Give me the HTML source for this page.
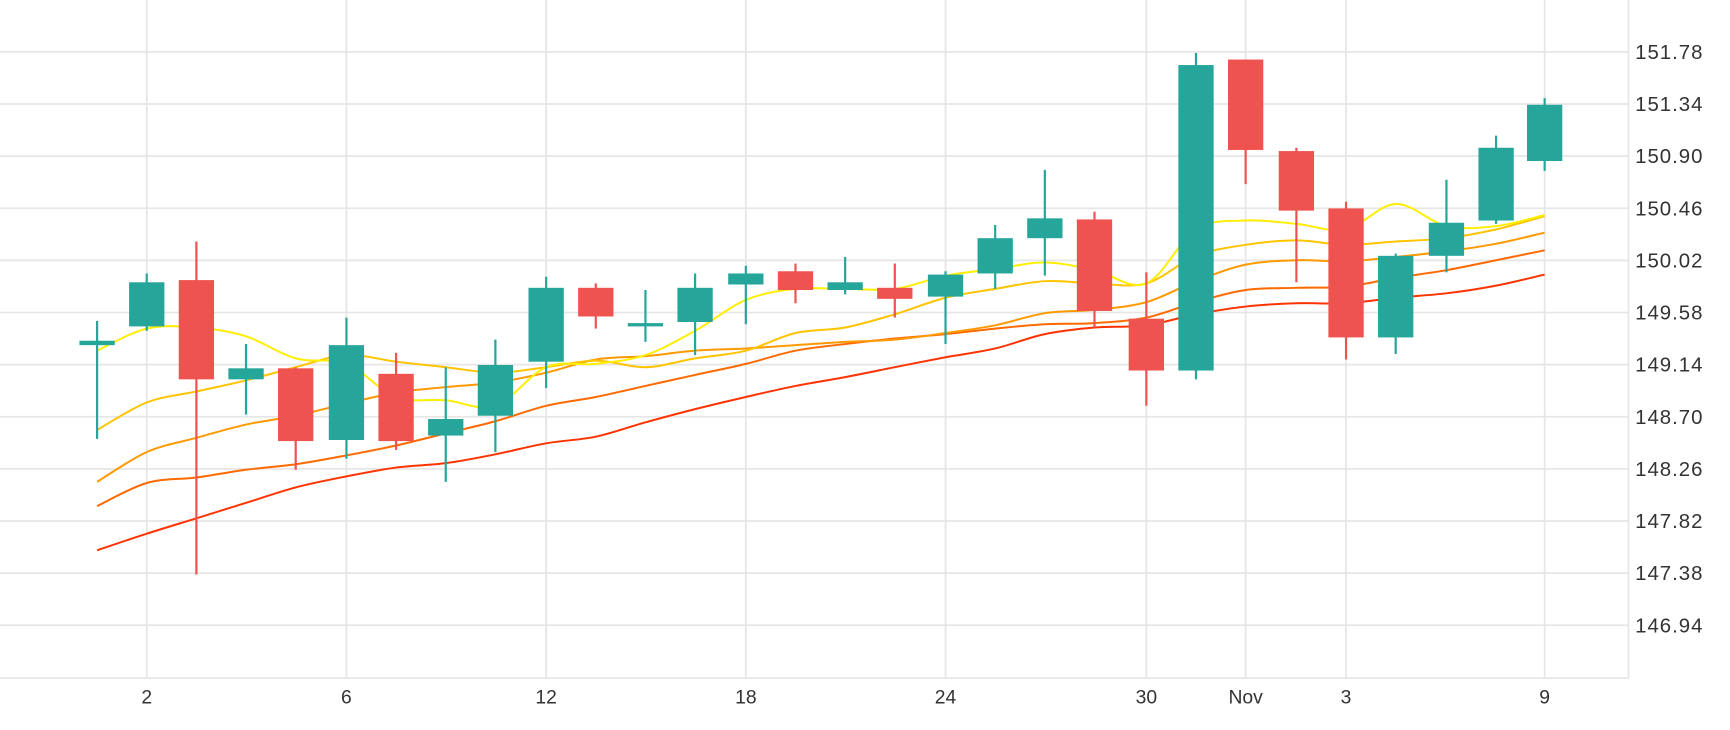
<!DOCTYPE html>
<html><head><meta charset="utf-8"><style>
html,body{margin:0;padding:0;background:#fff;width:1730px;height:730px;overflow:hidden}
svg{display:block}
text{font-family:"Liberation Sans","DejaVu Sans",sans-serif;fill:#333}
</style></head><body>
<svg id="c" width="1730" height="730" viewBox="0 0 1568 662" preserveAspectRatio="none" xmlns="http://www.w3.org/2000/svg"></svg>
<script>
var s='';
var X=[88,133,178,223,268,314,359,404,449,495,540,585,630,676,721,766,811,857,902,947,992,1039,1084,1129,1175,1220,1265,1311,1356,1400];
var labs=['151.78','151.34','150.90','150.46','150.02','149.58','149.14','148.70','148.26','147.82','147.38','146.94'];
for(var k=0;k<12;k++){var y=47+k*47.27;s+='<line x1="0" x2="1476" y1="'+y+'" y2="'+y+'" stroke="#e6e6e6" stroke-width="1.6"/>';
s+='<text x="1482" y="'+(y+6.5)+'" font-size="18.5" letter-spacing="0.9">'+labs[k]+'</text>';}
var vg=[[1,'2'],[5,'6'],[9,'12'],[13,'18'],[17,'24'],[21,'30'],[23,'Nov'],[25,'3'],[29,'9']];
vg.forEach(function(v){var x=X[v[0]];s+='<line x1="'+x+'" x2="'+x+'" y1="0" y2="615" stroke="#e6e6e6" stroke-width="1.6"/>';
s+='<text x="'+x+'" y="638" font-size="17.5" text-anchor="middle">'+v[1]+'</text>';});
s+='<line x1="0" x2="1476" y1="615" y2="615" stroke="#e6e6e6" stroke-width="1.6"/><line x1="1476" x2="1476" y1="0" y2="615" stroke="#e6e6e6" stroke-width="1.6"/>';
var C=[[291,309,313,398,1],[248,256,296,300,1],[219,254,344,521,0],[312,334,344,376,1],[333,334,400,426,0],[288,313,399,416,1],[320,339,400,408,0],[333,380,395,437,1],[308,331,377,410,1],[251,261,328,352,1],[257,261,287,298,0],[263,293,295,310,1],[248,261,292,322,1],[241,248,258,294,1],[239,246,263,275,0],[233,256,263,267,1],[239,261,271,288,0],[246,249,269,312,1],[204,216,248,262,1],[154,198,216,250,1],[192,199,282,297,0],[247,289,336,368,0],[48,59,336,344,1],[54,54,136,167,0],[134,137,191,256,0],[183,189,306,326,0],[230,232,306,321,1],[163,202,232,247,1],[123,134,200,203,1],[89,95,146,155,1]];
function sm(p,col){var d='M'+X[0]+','+p[0];for(var i=0;i<p.length-1;i++){var p0=p[Math.max(i-1,0)],p1=p[i],p2=p[i+1],p3=p[Math.min(i+2,p.length-1)];var x0=X[Math.max(i-1,0)],x1=X[i],x2=X[i+1],x3=X[Math.min(i+2,p.length-1)];
d+=' C'+(x1+(x2-x0)/6)+','+(p1+(p2-p0)/6)+' '+(x2-(x3-x1)/6)+','+(p2-(p3-p1)/6)+' '+x2+','+p2;}
return '<path d="'+d+'" fill="none" stroke="'+col+'" stroke-width="1.8"/>';}
var L=[
['#ff3300',[499,484,470,456,442,432,424,420,412,402,396,383,371,360,350,342,333,324,316,303,297,295,285,278,275,275,270,266,259,249]],
['#ff6a00',[459,438,433,426,421,413,404,393,382,368,360,350,340,330,318,312,307,303,298,294,293,288,274,263,261,260,252,245,236,227]],
['#ff9900',[437,410,397,385,377,366,356,351,347,338,326,323,318,316,313,310,308,302,295,284,281,274,255,240,236,237,233,228,221,211]],
['#ffc400',[390,365,355,345,333,322,328,333,338,333,327,333,325,318,302,297,285,270,262,255,257,257,232,222,218,222,219,216,208,196]],
['#ffee00',[318,298,297,305,325,330,360,363,368,333,330,322,300,272,262,262,262,250,244,238,245,257,208,200,203,208,185,205,205,195]]];
L.forEach(function(l){s+=sm(l[1],l[0]);});
C.forEach(function(c,i){var x=X[i],col=c[4]?'#26a69a':'#ef5350';
s+='<line x1="'+x+'" x2="'+x+'" y1="'+c[0]+'" y2="'+c[3]+'" stroke="'+col+'" stroke-width="2"/>';
var h=Math.max(c[2]-c[1],3);s+='<rect x="'+(x-16)+'" y="'+c[1]+'" width="32" height="'+h+'" fill="'+col+'"/>';});
document.getElementById('c').innerHTML=s;
</script>
</body></html>
